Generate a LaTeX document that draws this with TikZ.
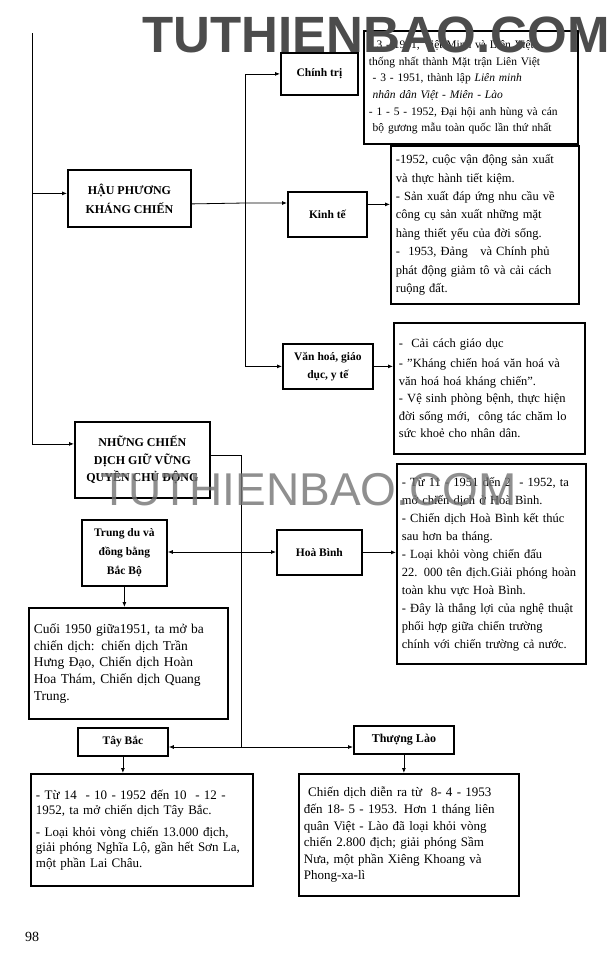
\documentclass[tikz,border=0pt]{standalone}
\usepackage{fontspec}
\setmainfont{Liberation Serif}
\newfontfamily\wmfont{Liberation Sans}
\usepackage{tikz}
\usetikzlibrary{arrows.meta, positioning}

\begin{document}
\begin{tikzpicture}[x=1pt, y=-1pt,
    topic/.style={draw, line width=1.8pt, align=center, inner sep=2pt, anchor=north west,
                  font=\fontsize{11.5}{14}\selectfont\bfseries},
    note/.style={draw, line width=1.8pt, align=left, inner sep=5pt, anchor=north west},
    link/.style={line width=0.8pt, -{Latex[length=5pt, width=4pt]}},
    wire/.style={line width=0.8pt}]
    \useasboundingbox[fill=white] (0,0) rectangle (615,980);

    % Main branches
    \node[topic, minimum width=123pt, minimum height=57pt, font=\fontsize{12}{19}\selectfont\bfseries]
          (haup) at (67,169) {HẬU PHƯƠNG\\KHÁNG CHIẾN};
    \node[topic, minimum width=135pt, minimum height=76pt, font=\fontsize{12}{17.5}\selectfont\bfseries]
          (nhung) at (74,421) {NHỮNG CHIẾN\\DỊCH GIỮ VỮNG\\QUYỀN CHỦ ĐỘNG};

    % Rear fields
    \node[topic, minimum width=77pt, minimum height=42pt] (chinhtri) at (280,52) {Chính trị};
    \node[topic, minimum width=79pt, minimum height=45pt] (kinhte) at (287,191) {Kinh tế};
    \node[topic, minimum width=90pt, minimum height=45pt, font=\fontsize{11.5}{18}\selectfont\bfseries]
          (vanhoa) at (282,343) {Văn hoá, giáo\\dục, y tế};

    \node[note, text width=204pt, minimum height=113pt, font=\fontsize{11.5}{16.7}\selectfont]
          (ctNote) at (363,30) {- 3 - 1951, Việt Minh và Liên Việt\\
      thống nhất thành Mặt trận Liên Việt\\
      \ - 3 - 1951, thành lập \textit{Liên minh}\\
      \ \textit{nhân dân Việt - Miên - Lào}\\
      - 1 - 5 - 1952, Đại hội anh hùng và cán\\
      \ bộ gương mẫu toàn quốc lần thứ nhất};
    \node[note, text width=178pt, minimum height=158pt, font=\fontsize{12.5}{18.4}\selectfont]
          (ktNote) at (390,145) {-1952, cuộc vận động sản xuất\\
      và thực hành tiết kiệm.\\
      - Sản xuất đáp ứng nhu cầu về\\
      công cụ sản xuất những mặt\\
      hàng thiết yếu của đời sống.\\
      - \ 1953, Đảng \ \ và Chính phủ\\
      phát động giảm tô và cải cách\\
      ruộng đất.};
    \node[note, text width=181pt, minimum height=131pt, font=\fontsize{12.5}{17.5}\selectfont]
          (vhNote) at (393,322) {- \ Cải cách giáo dục\\[3pt]
      - "Kháng chiến hoá văn hoá và\\
      văn hoá hoá kháng chiến".\\
      - Vệ sinh phòng bệnh, thực hiện\\
      đời sống mới, \ công tác chăm lo\\
      sức khoẻ cho nhân dân.};

    % Campaigns
    \node[topic, minimum width=85pt, minimum height=66pt, font=\fontsize{11.5}{19}\selectfont\bfseries]
          (trungdu) at (81,519) {Trung du và\\đồng bằng\\Bắc Bộ};
    \node[topic, minimum width=85pt, minimum height=45pt] (hoabinh) at (276,529) {Hoà Bình};
    \node[topic, minimum width=90pt, minimum height=28pt] (taybac) at (77,727) {Tây Bắc};
    \node[topic, minimum width=100pt, minimum height=28pt, font=\fontsize{12}{14}\selectfont\bfseries]
          (thuonglao) at (353,725) {Thượng Lào};

    \node[note, text width=179pt, minimum height=200pt, font=\fontsize{12.5}{18}\selectfont]
          (hbNote) at (396,463) {- Từ 11 - 1951 đến 2 \ - 1952, ta\\
      mở chiến dịch ở Hoà Bình.\\
      - Chiến dịch Hoà Bình kết thúc\\
      sau hơn ba tháng.\\
      - Loại khỏi vòng chiến đấu\\
      22. 000 tên địch.Giải phóng hoàn\\
      toàn khu vực Hoà Bình.\\
      - Đây là thắng lợi của nghệ thuật\\
      phối hợp giữa chiến trường\\
      chính với chiến trường cả nước.};
    \node[note, text width=189pt, minimum height=111pt, font=\fontsize{13.5}{16.7}\selectfont]
          (tdNote) at (28,607) {Cuối 1950 giữa1951, ta mở ba\\
      chiến dịch: chiến dịch Trần\\
      Hưng Đạo, Chiến dịch Hoàn\\
      Hoa Thám, Chiến dịch Quang\\
      Trung.};
    \node[note, text width=212pt, minimum height=112pt, font=\fontsize{13}{15.5}\selectfont]
          (tbNote) at (30,773) {- Từ 14 \ - 10 - 1952 đến 10 \ - 12 -\\
      1952, ta mở chiến dịch Tây Bắc.\\[6pt]
      - Loại khỏi vòng chiến 13.000 địch,\\
      giải phóng Nghĩa Lộ, gần hết Sơn La,\\
      một phần Lai Châu.};
    \node[note, text width=210pt, minimum height=122pt, font=\fontsize{13}{16.6}\selectfont]
          (tlNote) at (298,773) {\ Chiến dịch diễn ra từ \ 8- 4 - 1953\\
      đến 18- 5 - 1953. Hơn 1 tháng liên\\
      quân Việt - Lào đã loại khỏi vòng\\
      chiến 2.800 địch; giải phóng Sầm\\
      Nưa, một phần Xiêng Khoang và\\
      Phong-xa-lì};

    % Connectors
    \coordinate (spineTop) at (32,33);
    \coordinate (hpFork) at (245,203);
    \coordinate (nhFork) at (241,552);
    \coordinate (lowFork) at (241,747);

    \draw[link] (spineTop) |- ([yshift=5pt]haup.west);
    \draw[link] (spineTop) |- ([yshift=16pt]nhung.west);
    \draw[link] ([yshift=-5.5pt]haup.east) -- (hpFork) -- (hpFork -| kinhte.west);
    \draw[link] (hpFork) |- (chinhtri.west);
    \draw[link] (hpFork) |- (vanhoa.west);
    \draw[link] ([yshift=10pt]kinhte.east) -- ([yshift=10pt]kinhte.east -| ktNote.west);
    \draw[link] (vanhoa.east) -- (vanhoa.east -| vhNote.west);

    \draw[wire] ([yshift=5pt]nhung.east) -| (lowFork);
    \draw[link] (nhFork) -- (nhFork -| trungdu.east);
    \draw[link] (nhFork) -- (nhFork -| hoabinh.west);
    \draw[link] (hoabinh.east) -- (hoabinh.east -| hbNote.west);
    \draw[link] (trungdu.south) -- (trungdu.south |- tdNote.north);
    \draw[link] (lowFork) -- (lowFork -| taybac.east);
    \draw[link] (lowFork) -- (lowFork -| thuonglao.west);
    \draw[link] (taybac.south) -- (taybac.south |- tbNote.north);
    \draw[link] (thuonglao.south) -- (thuonglao.south |- tlNote.north);

    % Page number
    \node[font=\fontsize{14}{16}\selectfont] (pagenum) at (32,937) {98};

    % Watermarks
    \node[anchor=base west, inner sep=0pt, text=black!70,
          font=\wmfont\bfseries\fontsize{51}{51}\selectfont] (wmTop) at (142,52) {TUTHIENBAO.COM};
    \node[anchor=base west, inner sep=0pt, text=black!55, opacity=0.8,
          font=\wmfont\fontsize{46}{46}\selectfont] (wmMid) at (100,505) {TUTHIENBAO.COM};
\end{tikzpicture}
\end{document}
